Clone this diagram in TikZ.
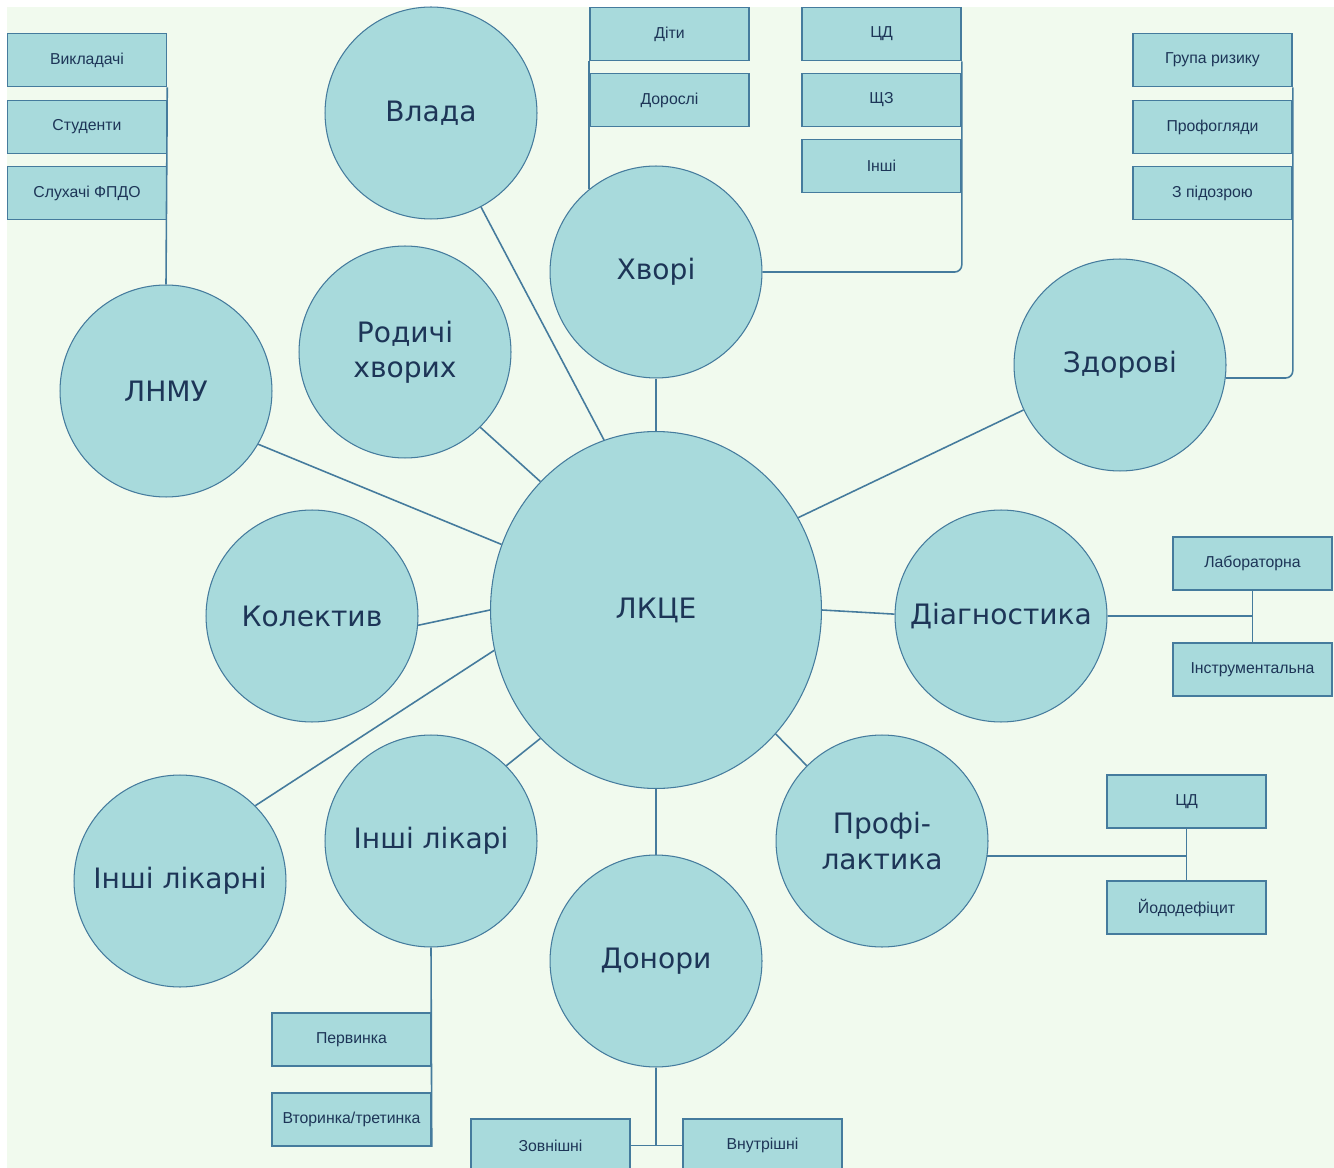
\documentclass[tikz,border=0pt]{standalone}
\usepackage{fontspec}
\setmainfont{DejaVu Sans}
\newfontfamily\boxfont{Liberation Sans}
\usetikzlibrary{shapes.geometric}
\definecolor{bgc}{HTML}{F1FAEE}
\definecolor{fillc}{HTML}{A8DADC}
\definecolor{linec}{HTML}{457B9D}
\definecolor{textc}{HTML}{1D3557}
\begin{document}
\begin{tikzpicture}[x=0.02cm, y=-0.02cm,
                every node/.style = {fill=fillc, draw=linec, text=textc, inner sep=0pt},
                bubble/.style = {circle, minimum size=4.24cm, line width=0.6pt,
                                 align=center, font=\fontsize{16}{20}\selectfont},
                hub/.style = {ellipse, minimum width=6.62cm, minimum height=7.14cm,
                              line width=0.6pt, font=\fontsize{16}{20}\selectfont},
                item/.style = {rectangle, minimum width=3.18cm, minimum height=1.06cm,
                               line width=0.9pt, font=\boxfont\fontsize{9}{11}\selectfont},
                link/.style = {draw=linec, line width=0.9pt}
            ]
            \useasboundingbox (0,0) rectangle (1334,1168);
            \fill[white] (0,0) rectangle (1334,1168);
            \fill[bgc] (7,7) rectangle (1334,1168);

            \node[hub] (lkce) at (656,610) {ЛКЦЕ};
            \node[bubble] (vlada) at (431,113) {Влада};
            \node[bubble] (khvori) at (656,272) {Хворі};
            \node[bubble] (rodychi) at (405,352) {Родичі\\хворих};
            \node[bubble] (lnmu) at (166,391) {ЛНМУ};
            \node[bubble] (zdorovi) at (1120,365) {Здорові};
            \node[bubble] (kolektyv) at (312,616) {Колектив};
            \node[bubble] (diagn) at (1001,616) {Діагностика};
            \node[bubble] (likari) at (431,841) {Інші лікарі};
            \node[bubble] (likarni) at (180,881) {Інші лікарні};
            \node[bubble] (donory) at (656,961) {Донори};
            \node[bubble] (profil) at (882,841) {Профі-\\лактика};

            \node[item] (vykl) at (87,60) {Викладачі};
            \node[item] (stud) at (87,127) {Студенти};
            \node[item] (slukh) at (87,193) {Слухачі ФПДО};
            \node[item] (dity) at (669.5,34) {Діти};
            \node[item] (dorosli) at (669.5,100) {Дорослі};
            \node[item] (cdA) at (881.5,34) {ЦД};
            \node[item] (shchz) at (881.5,100) {ЩЗ};
            \node[item] (inshi) at (881.5,166) {Інші};
            \node[item] (ryzyk) at (1212.5,60) {Група ризику};
            \node[item] (profogl) at (1212.5,127) {Профогляди};
            \node[item] (pidozr) at (1212.5,193) {З підозрою};
            \node[item] (lab) at (1252.5,563.5) {Лабораторна};
            \node[item] (instr) at (1252.5,669.5) {Інструментальна};
            \node[item] (cdB) at (1186.5,801.5) {ЦД};
            \node[item] (iod) at (1186.5,907.5) {Йододефіцит};
            \node[item] (pervyn) at (351.5,1039.5) {Первинка};
            \node[item] (vtoryn) at (351.5,1119.5) {Вторинка/третинка};
            \node[item] (zovn) at (550.5,1145.5) {Зовнішні};
            \node[item] (vnutr) at (762.5,1145.5) {Внутрішні};

            \draw[link] (lkce.107) -- (vlada.-62);
            \draw[link] (lkce.north) -- (khvori.south);
            \draw[link] (lkce.132) -- (rodychi.-45);
            \draw[link] (lkce.157) -- (lnmu.-30);
            \draw[link] (lkce.west) -- (kolektyv.-5);
            \draw[link] (lkce.194) -- (likarni.45);
            \draw[link] (lkce.228) -- (likari.45);
            \draw[link] (lkce.south) -- (donory.north);
            \draw[link] (lkce.-46) -- (profil.135);
            \draw[link] (lkce.east) -- (diagn.179);
            \draw[link] (lkce.33) -- (zdorovi.205);

            \draw[link] (lnmu.north) -- (vykl.south east);
            \draw[link] (khvori.129) -- (khvori.129 |- dity.south west);
            \draw[link, rounded corners=4pt] (khvori.east) -| (cdA.south east);
            \draw[link, rounded corners=4pt] (zdorovi.-7) -| (ryzyk.south east);
            \draw[link] (diagn.east) -- (diagn.east -| lab.south);
            \draw[link] (lab.south) -- (instr.north);
            \draw[link] (profil.-8) -- (profil.-8 -| cdB.south);
            \draw[link] (cdB.south) -- (iod.north);
            \draw[link] (likari.south) -- (vtoryn.south east);
            \draw[link] (donory.south) -- (donory.south |- zovn.east);
            \draw[link] (zovn.east) -- (vnutr.west);
        \end{tikzpicture}
\end{document}
